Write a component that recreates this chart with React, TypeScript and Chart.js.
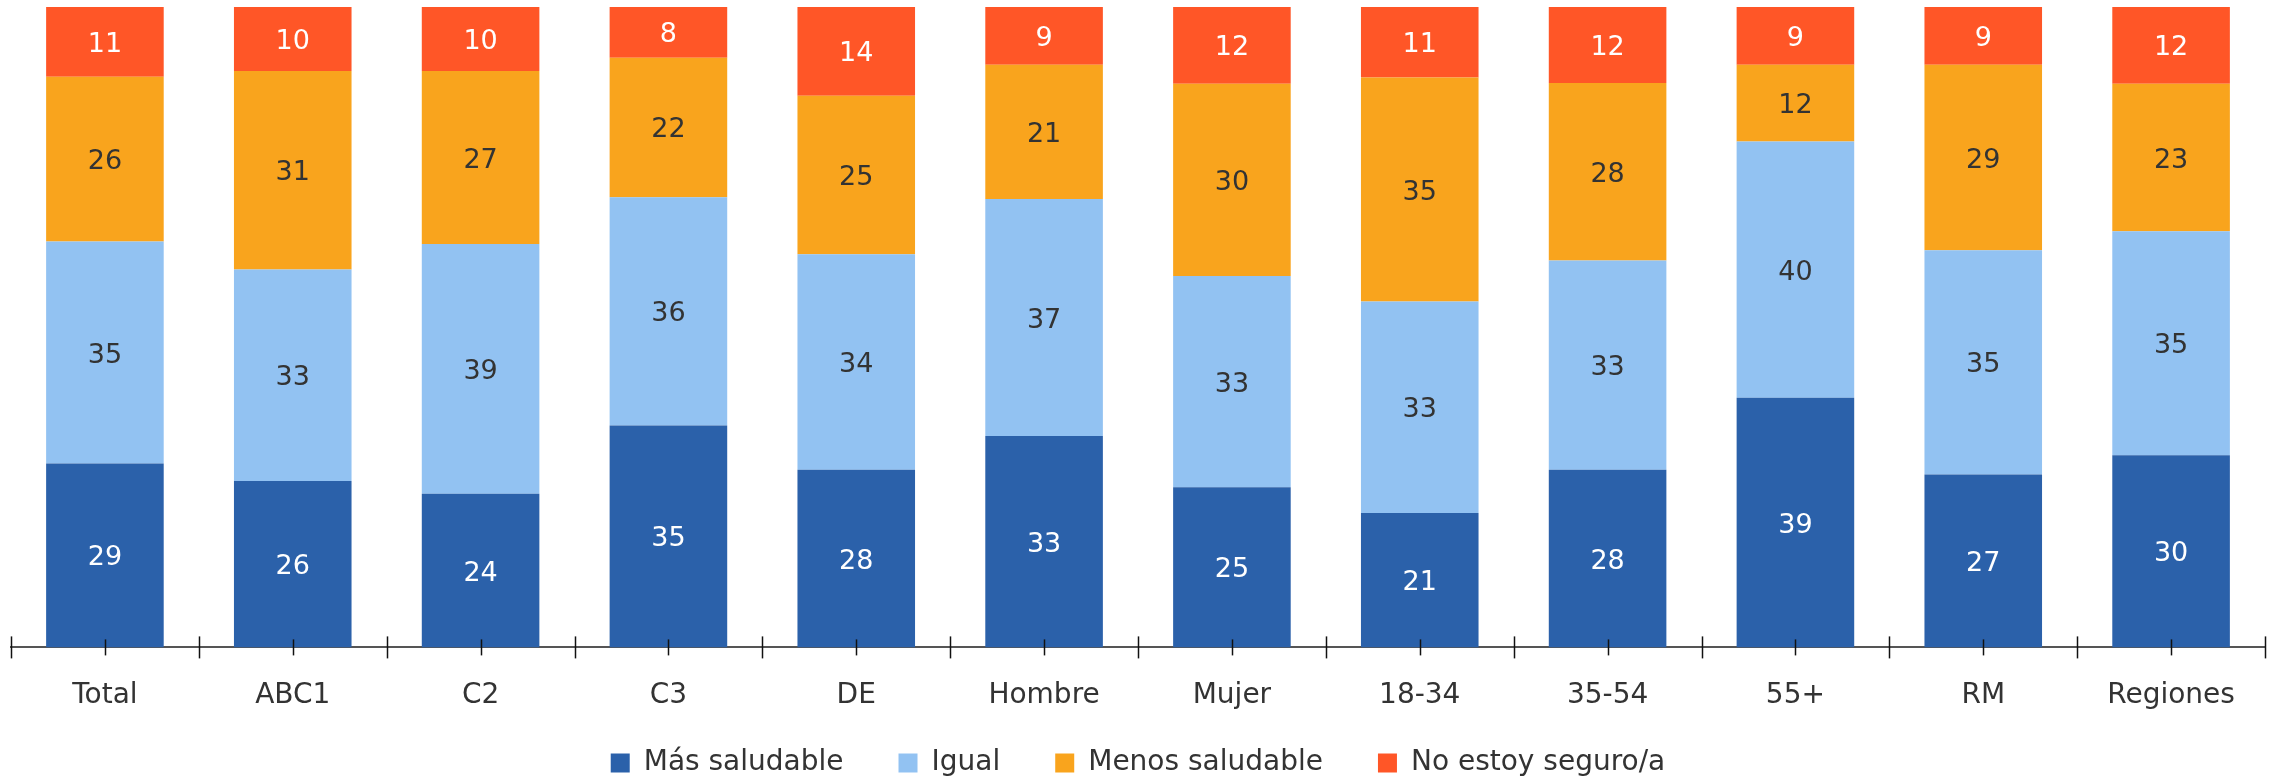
import React, { useEffect, useRef } from "react";
import { Chart, registerables } from "chart.js";

Chart.register(...registerables);

const categories = ["Total", "ABC1", "C2", "C3", "DE", "Hombre", "Mujer", "18-34", "35-54", "55+", "RM", "Regiones"];
const masSaludable = [29, 26, 24, 35, 28, 33, 25, 21, 28, 39, 27, 30];
const igual = [35, 33, 39, 36, 34, 37, 33, 33, 33, 40, 35, 35];
const menosSaludable = [26, 31, 27, 22, 25, 21, 30, 35, 28, 12, 29, 23];
const noSeguro = [11, 10, 10, 8, 14, 9, 12, 11, 12, 9, 9, 12];

const seriesNames = ["Más saludable", "Igual", "Menos saludable", "No estoy seguro/a"];
const seriesColors = ["#2B61AA", "#92C2F2", "#F9A41D", "#FF5627"];
const labelColors = ["#FFFFFF", "#333333", "#333333", "#FFFFFF"];

const FONT = "'DejaVu Sans', sans-serif";

export default function App() {
  const ref = useRef<HTMLCanvasElement | null>(null);

  useEffect(() => {
    const raw = [masSaludable, igual, menosSaludable, noSeguro];
    const totals = categories.map((_, i) => raw.reduce((s, arr) => s + arr[i], 0));

    const valueLabels = {
      id: "valueLabels",
      afterDatasetsDraw(chart: any) {
        const ctx = chart.ctx;
        ctx.save();
        ctx.font = `400 27px ${FONT}`;
        ctx.textAlign = "center";
        ctx.textBaseline = "middle";
        chart.data.datasets.forEach((ds: any, di: number) => {
          const meta = chart.getDatasetMeta(di);
          meta.data.forEach((el: any, i: number) => {
            const p = el.getProps(["x", "y", "base"], true);
            ctx.fillStyle = labelColors[di];
            ctx.fillText(String(raw[di][i]), p.x, (p.y + p.base) / 2 + 3);
          });
        });
        ctx.restore();
      },
    };

    const tickMarks = {
      id: "tickMarks",
      afterDraw(chart: any) {
        const ctx = chart.ctx;
        const xs = chart.scales.x;
        const yAxis = chart.chartArea.bottom;
        ctx.save();
        ctx.strokeStyle = "#111111";
        ctx.lineWidth = 1.5;
        for (let i = 0; i <= categories.length; i++) {
          const x = Math.round(xs.getPixelForValue(i - 0.5)) + 0.5;
          ctx.beginPath();
          ctx.moveTo(x, yAxis - 11);
          ctx.lineTo(x, yAxis + 11);
          ctx.stroke();
        }
        for (let i = 0; i < categories.length; i++) {
          const x = Math.round(xs.getPixelForTick(i)) + 0.5;
          ctx.beginPath();
          ctx.moveTo(x, yAxis - 8);
          ctx.lineTo(x, yAxis + 8);
          ctx.stroke();
        }
        ctx.restore();
      },
    };

    const legendShift = {
      id: "legendShift",
      afterLayout(chart: any) {
        const lg = chart.legend;
        if (lg) {
          lg.top -= 40;
          lg.bottom -= 40;
        }
      },
    };

    const chart = new Chart(ref.current as HTMLCanvasElement, {
      type: "bar",
      data: {
        labels: categories,
        datasets: raw.map((arr, di) => ({
          label: seriesNames[di],
          data: arr.map((v, i) => (v / totals[i]) * 100),
          backgroundColor: seriesColors[di],
          borderWidth: 0,
          categoryPercentage: 1,
          barPercentage: 0.626,
        })),
      },
      options: {
        animation: false,
        responsive: false,
        layout: { padding: { left: 11, right: 10, top: 7, bottom: -50 } },
        plugins: {
          tooltip: { enabled: false },
          legend: {
            position: "bottom",
            labels: {
              font: { family: FONT, size: 28 },
              color: "#333333",
              boxWidth: 19,
              boxHeight: 19,
              padding: 55,
            },
          },
        },
        scales: {
          x: {
            stacked: true,
            grid: { display: true, color: "rgba(0,0,0,0)", drawTicks: true, tickLength: 11, drawOnChartArea: false },
            border: { display: true, color: "#555555", width: 2 },
            ticks: { font: { family: FONT, size: 28 }, color: "#333333", padding: 21 },
          },
          y: {
            stacked: true,
            display: false,
            min: 0,
            max: 100,
          },
        },
      },
      plugins: [valueLabels, tickMarks, legendShift],
    });
    return () => chart.destroy();
  }, []);

  return (
    <div style={{ position: "fixed", left: 0, top: 0, width: 2275, height: 777, background: "#fff" }}>
      <canvas ref={ref} width={2275} height={777} />
    </div>
  );
}
